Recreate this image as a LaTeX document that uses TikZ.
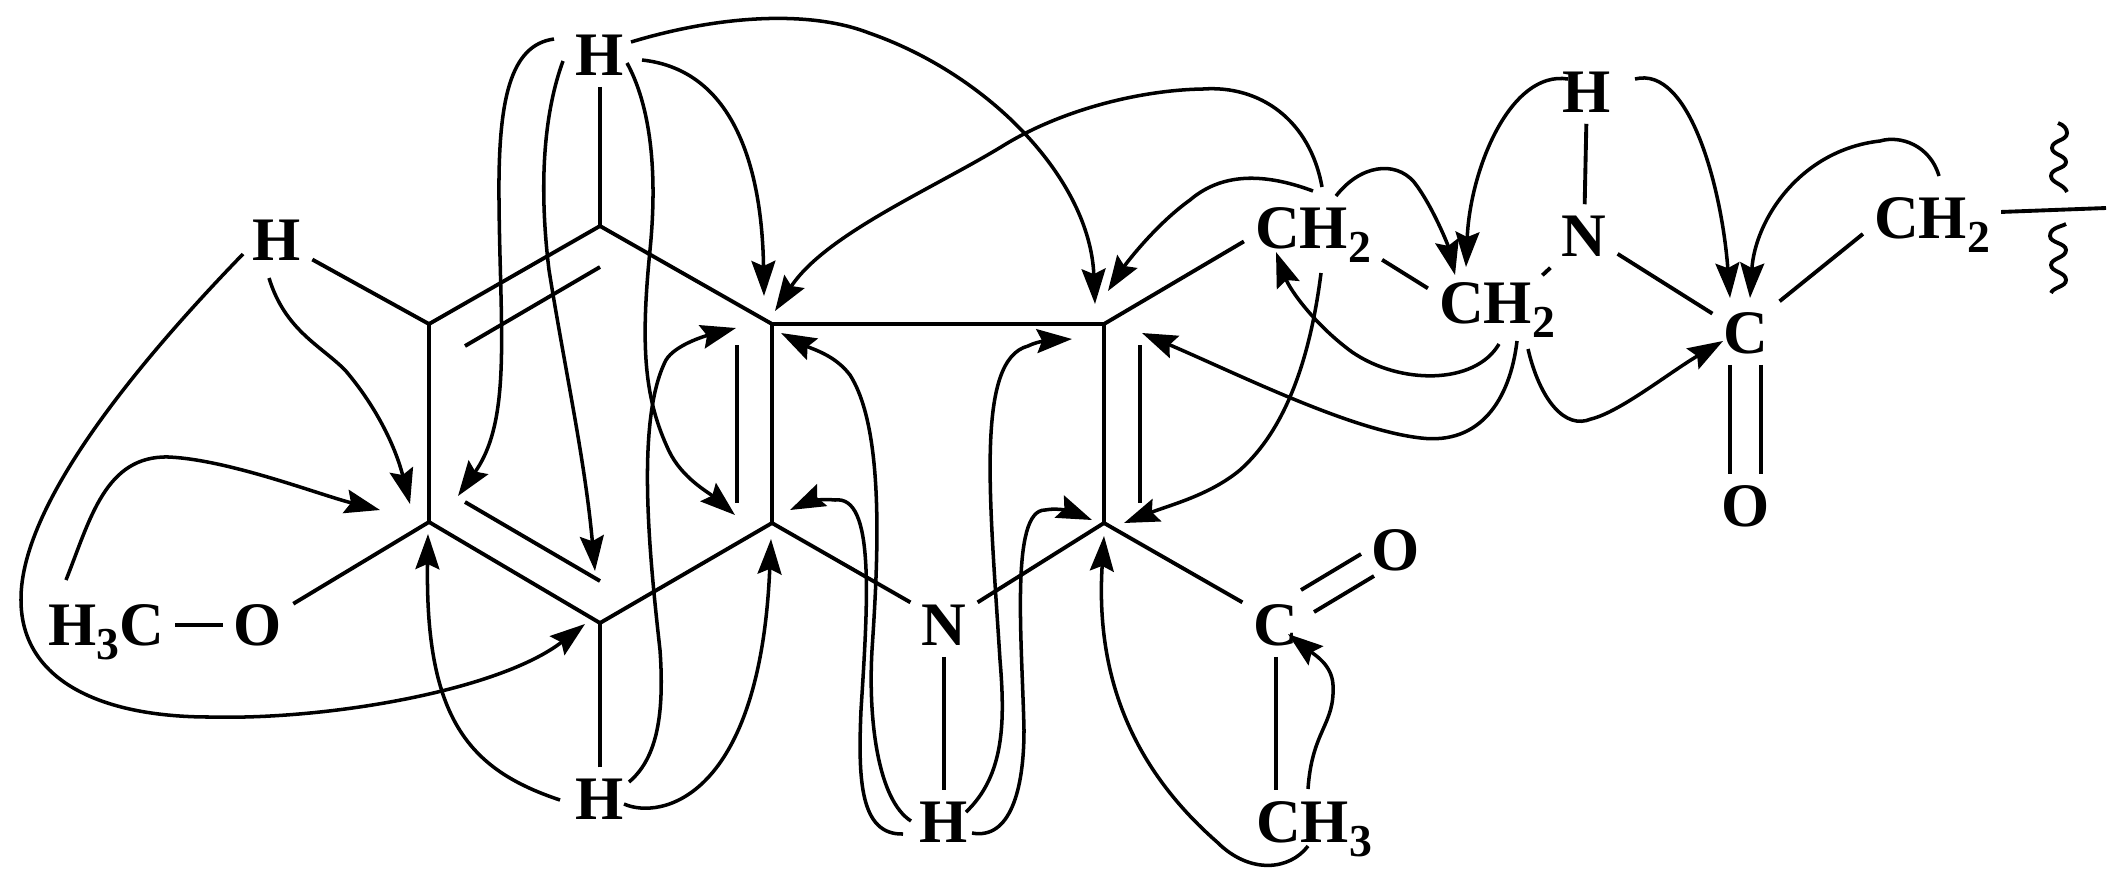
\documentclass[tikz,border=0pt]{standalone}
\usepackage{fontspec}
\setmainfont{Liberation Serif}
\usetikzlibrary{arrows.meta}
\newcommand{\lowsub}[1]{\raisebox{-4pt}{\fontsize{13}{13}\selectfont #1}}
\begin{document}
\begin{tikzpicture}[x=0.01cm,y=-0.01cm,
		atom/.style = {inner sep = 3pt, text height = 0.41cm, text depth = 0pt, font = \bfseries\fontsize{17.6}{20}\selectfont},
		bond/.style = {line width = 1.1pt},
		long arrow/.style = {line width = 1pt, -{Stealth[length = 10pt, width = 6.8pt, inset = 1.5pt]}}]
		\useasboundingbox (0,0) rectangle (2127,884);
		
		\node[atom] (Ht) at (600,55) {H};
		\node[atom] (Hl) at (277,240) {H};
		\node[atom] (Hb) at (600,799) {H};
		\node[atom] (Me) at (106,625) {H\lowsub{3}C};
		\node[atom] (Om) at (258,625) {O};
		\node[atom] (Nl) at (944,625) {N};
		\node[atom] (Hn) at (944,822) {H};
		\node[atom] (Ca) at (1276,625) {C};
		\node[atom] (Oa) at (1396,550) {O};
		\node[atom] (CHm) at (1314,822) {CH\lowsub{3}};
		\node[atom] (CHa) at (1313,228) {CH\lowsub{2}};
		\node[atom] (CHb) at (1497,303) {CH\lowsub{2}};
		\node[atom] (Nu) at (1584,236) {N};
		\node[atom] (Hu) at (1587,92) {H};
		\node[atom] (Cr) at (1746,333) {C};
		\node[atom] (Or) at (1746,506) {O};
		\node[atom] (CHr) at (1932,218) {CH\lowsub{2}};
		
		\coordinate (v1) at (600,226);
		\coordinate (v2) at (429,324);
		\coordinate (v3) at (772,324);
		\coordinate (v4) at (429,522);
		\coordinate (v5) at (772,523);
		\coordinate (v6) at (600,623);
		\coordinate (v7) at (1104,324);
		\coordinate (v8) at (1104,523);
		
		\draw[bond] (v1) -- (v2) -- (v4) -- (v6) -- (v5) -- (v3) -- cycle;
		\draw[bond] (v5) -- (Nl.146);
		\draw[bond] (v8) -- (Nl.34);
		\draw[bond] (v7) -- (v8);
		\draw[line width = 1.3pt] (v3) -- (v7);
		\draw[bond] (Ht) -- (v1);
		\draw[bond] (Hl) -- (v2);
		\draw[bond] (Om) -- (v4);
		\draw[bond] (Me) -- (Om);
		\draw[bond] (Hb) -- (v6);
		\draw[bond] (Nl) -- (Hn);
		\draw[bond] (v7) -- (CHa.191);
		\draw[bond] (v8) -- (Ca.146);
		\draw[bond] (Ca.south) -- (Ca.south |- CHm.north);
		\draw[bond] (CHa.south east) -- (CHb.168);
		\draw[bond] ([yshift = -0.04cm]CHb.35) -- (Nu.south west);
		\draw[bond] (Nu) -- (Hu);
		\draw[bond] (Nu.-28) -- (Cr.150);
		\draw[bond] (Cr.north east) -- (CHr.193);
		\draw[bond] ([xshift = -0.16cm]Cr.south) -- ([xshift = -0.16cm]Or.north);
		\draw[bond] ([xshift = 0.15cm]Cr.south) -- ([xshift = 0.15cm]Or.north);
		
		\coordinate (d1) at (600,267);
		\coordinate (d2) at (465,346);
		\coordinate (d3) at (737,345);
		\coordinate (d4) at (737,503);
		\coordinate (d5) at (465,502);
		\coordinate (d6) at (600,581);
		\coordinate (d7) at (1140,345);
		\coordinate (d8) at (1140,503);
		\coordinate (d9) at (1301,590);
		\coordinate (d10) at (1361,554);
		\coordinate (d11) at (1314,612);
		\coordinate (d12) at (1374,576);
		\draw[bond] (d1) -- (d2);
		\draw[bond] (d3) -- (d4);
		\draw[bond] (d5) -- (d6);
		\draw[bond] (d7) -- (d8);
		\draw[bond] (d9) -- (d10);
		\draw[bond] (d11) -- (d12);
		
		\coordinate (end) at (2106,208);
		\draw[bond] (CHr.5) -- (end);
		\coordinate (w1) at (2058,123);
		\coordinate (w2) at (2067,192);
		\coordinate (w3) at (2066,224);
		\coordinate (w4) at (2051,293);
		\draw[bond] (w1) .. controls (2064,125) and (2067,129) .. (2067,133) .. controls (2067,141) and (2052,140) .. (2052,148) .. controls (2052,155) and (2066,155) .. (2066,162) .. controls (2066,169) and (2051,168) .. (2051,176) .. controls (2051,183) and (2064,184) .. (w2);
		\draw[bond] (w3) .. controls (2060,227) and (2050,228) .. (2050,236) .. controls (2050,243) and (2066,243) .. (2066,250) .. controls (2066,258) and (2051,258) .. (2051,265) .. controls (2051,272) and (2066,272) .. (2066,280) .. controls (2066,287) and (2053,287) .. (w4);
		
		\coordinate (s1) at (554,39);
		\coordinate (t1) at (458,496);
		\coordinate (s2) at (563,61);
		\coordinate (t2) at (595,571);
		\coordinate (s3) at (627,63);
		\coordinate (t3) at (735,515);
		\coordinate (s4) at (642,60);
		\coordinate (t4) at (764,296);
		\coordinate (s5) at (631,42);
		\coordinate (t5) at (1095,304);
		\draw[long arrow] (s1) .. controls (510,45) and (498,100) .. (499,200) .. controls (500,330) and (512,420) .. (t1);
		\draw[long arrow] (s2) .. controls (545,110) and (538,180) .. (549,270) .. controls (565,370) and (585,460) .. (t2);
		\draw[long arrow] (s3) .. controls (650,105) and (658,170) .. (650,250) .. controls (640,350) and (645,400) .. (669,451) .. controls (682,478) and (708,492) .. (t3);
		\draw[long arrow] (s4) .. controls (735,70) and (762,170) .. (t4);
		\draw[long arrow] (s5) .. controls (720,15) and (810,10) .. (869,33) .. controls (990,75) and (1090,180) .. (t5);
		
		\coordinate (s6) at (1322,187);
		\coordinate (t6) at (775,311);
		\coordinate (s7) at (1313,191);
		\coordinate (t7) at (1108,291);
		\coordinate (s8) at (1336,196);
		\coordinate (t8) at (1455,275);
		\coordinate (s9) at (1568,79);
		\coordinate (t9) at (1466,267);
		\coordinate (s10) at (1635,79);
		\coordinate (t10) at (1730,298);
		\coordinate (s11) at (1939,176);
		\coordinate (t11) at (1750,298);
		\draw[long arrow] (s6) .. controls (1310,120) and (1260,85) .. (1203,89) .. controls (1140,90) and (1060,110) .. (1001,147) .. controls (930,190) and (825,235) .. (t6);
		\draw[long arrow] (s7) .. controls (1270,175) and (1225,170) .. (1190,200) .. controls (1155,225) and (1125,265) .. (t7);
		\draw[long arrow] (s8) .. controls (1360,165) and (1395,160) .. (1414,182) .. controls (1432,205) and (1448,245) .. (t8);
		\draw[long arrow] (s9) .. controls (1510,70) and (1470,170) .. (t9);
		\draw[long arrow] (s10) .. controls (1690,65) and (1722,190) .. (t10);
		\draw[long arrow] (s11) .. controls (1930,145) and (1900,135) .. (1880,141) .. controls (1800,150) and (1755,220) .. (t11);
		
		\coordinate (s12) at (1528,349);
		\coordinate (t12) at (1723,341);
		\coordinate (s13) at (1499,344);
		\coordinate (t13) at (1276,252);
		\coordinate (s14) at (1517,341);
		\coordinate (t14) at (1142,333);
		\coordinate (s15) at (1321,273);
		\coordinate (t15) at (1124,523);
		\coordinate (s16) at (1308,846);
		\coordinate (t16) at (1104,536);
		\coordinate (s17) at (1308,789);
		\coordinate (t17) at (1288,634);
		\draw[long arrow] (s12) .. controls (1540,400) and (1565,430) .. (1591,419) .. controls (1620,412) and (1670,372) .. (t12);
		\draw[long arrow] (s13) .. controls (1475,385) and (1400,385) .. (1352,352) .. controls (1315,325) and (1290,290) .. (t13);
		\draw[long arrow] (s14) .. controls (1510,400) and (1480,445) .. (1421,438) .. controls (1350,430) and (1240,375) .. (t14);
		\draw[long arrow] (s15) .. controls (1310,360) and (1285,430) .. (1240,470) .. controls (1210,495) and (1170,505) .. (t15);
		\draw[long arrow] (s16) .. controls (1290,870) and (1250,875) .. (1217,842) .. controls (1135,770) and (1095,680) .. (t16);
		\draw[long arrow] (s17) .. controls (1312,730) and (1335,725) .. (1333,685) .. controls (1332,665) and (1315,655) .. (t17);
		
		\coordinate (s18) at (972,833);
		\coordinate (t18) at (1092,520);
		\coordinate (s19) at (966,812);
		\coordinate (t19) at (1072,339);
		\coordinate (s20) at (911,821);
		\coordinate (t20) at (781,333);
		\coordinate (s21) at (903,834);
		\coordinate (t21) at (790,510);
		\draw[long arrow] (s18) .. controls (1010,840) and (1024,790) .. (1024,730) .. controls (1022,640) and (1010,510) .. (1045,510) .. controls (1060,507) and (1075,513) .. (t18);
		\draw[long arrow] (s19) .. controls (1005,775) and (1005,720) .. (1000,660) .. controls (990,500) and (975,360) .. (1028,346) .. controls (1040,340) and (1055,340) .. (t19);
		\draw[long arrow] (s20) .. controls (878,800) and (868,720) .. (872,650) .. controls (878,560) and (885,430) .. (850,375) .. controls (835,355) and (812,349) .. (t20);
		\draw[long arrow] (s21) .. controls (860,835) and (858,780) .. (861,710) .. controls (868,600) and (875,495) .. (835,500) .. controls (820,498) and (805,503) .. (t21);
		
		\coordinate (s22) at (560,800);
		\coordinate (t22) at (428,534);
		\coordinate (s23) at (624,804);
		\coordinate (t23) at (771,539);
		\coordinate (s24) at (629,782);
		\coordinate (t24) at (736,328);
		\coordinate (s25) at (269,278);
		\coordinate (t25) at (410,504);
		\coordinate (s26) at (243,254);
		\coordinate (t26) at (585,624);
		\coordinate (s27) at (66,580);
		\coordinate (t27) at (380,510);
		\draw[long arrow] (s22) .. controls (470,770) and (425,720) .. (t22);
		\draw[long arrow] (s23) .. controls (660,820) and (760,800) .. (t23);
		\draw[long arrow] (s24) .. controls (655,760) and (665,720) .. (660,650) .. controls (650,560) and (635,420) .. (666,360) .. controls (675,345) and (705,336) .. (t24);
		\draw[long arrow] (s25) .. controls (285,330) and (320,345) .. (345,370) .. controls (375,405) and (395,445) .. (t25);
		\draw[long arrow] (s26) .. controls (150,350) and (20,500) .. (21,600) .. controls (21,680) and (100,717) .. (210,717) .. controls (330,720) and (500,690) .. (t26);
		\draw[long arrow] (s27) .. controls (90,520) and (105,455) .. (169,457) .. controls (230,460) and (320,495) .. (t27);
\end{tikzpicture}
\end{document}
